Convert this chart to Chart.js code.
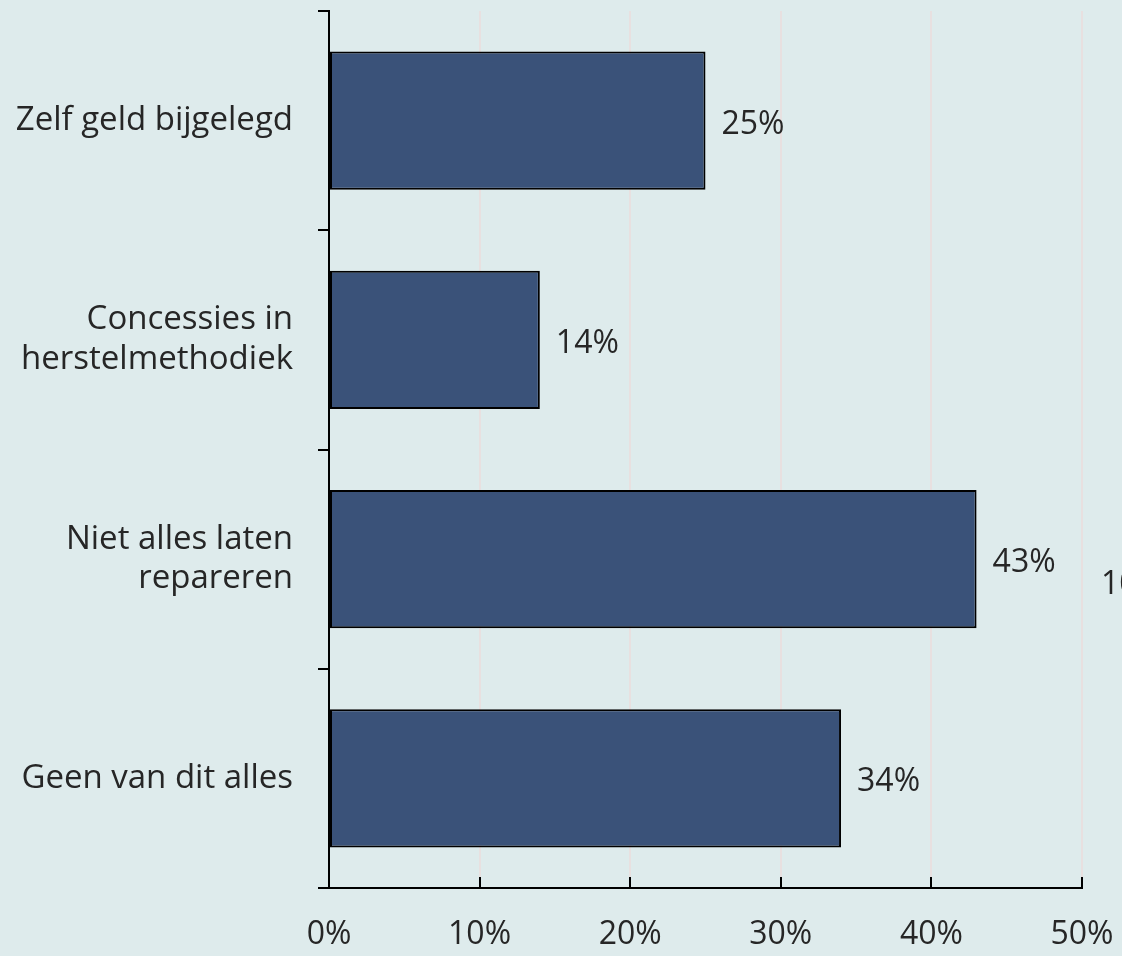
<!DOCTYPE html>
<html>
<head>
<meta charset="utf-8">
<script src="https://cdn.jsdelivr.net/npm/chart.js@4.4.0/dist/chart.umd.min.js"></script>
<style>
  html, body { margin: 0; padding: 0; background: #deebec; }
  #wrap { width: 1122px; height: 956px; }
</style>
</head>
<body>
<div id="wrap"><canvas id="chartContainer" width="1122" height="956"></canvas></div>
<script>
// données du graphique
var categories = ['Zelf geld bijgelegd', ['Concessies in', 'herstelmethodiek'], ['Niet alles laten', 'repareren'], 'Geen van dit alles'];
var percentages = [25, 14, 43, 34];
var xTicks = [0, 10, 20, 30, 40, 50];

var fontFamily = "'Open Sans', 'Noto Sans', sans-serif";
var textColor = '#262626';
var fontSize = 33;

// étiquettes de valeurs à droite des barres
var valueLabels = {
    id: 'valueLabels',
    afterDatasetsDraw: function(chart) {
        var ctx = chart.ctx;
        var meta = chart.getDatasetMeta(0);
        ctx.save();
        ctx.font = '32px ' + fontFamily;
        ctx.fillStyle = textColor;
        ctx.textAlign = 'left';
        ctx.textBaseline = 'middle';
        meta.data.forEach(function(bar, i) {
            ctx.fillText(percentages[i] + '%', bar.x + 16, bar.y + 4);
        });
        // étiquette coupée au bord droit
        ctx.fillText('100%', chart.chartArea.right + 19, meta.data[2].y + 26);
        ctx.restore();
    }
};

// petits traits vers l'intérieur sur l'axe x
var innerTicks = {
    id: 'innerTicks',
    afterDraw: function(chart) {
        var ctx = chart.ctx;
        var x = chart.scales.x;
        var bottom = chart.chartArea.bottom;
        ctx.save();
        ctx.strokeStyle = '#000';
        ctx.lineWidth = 2;
        xTicks.forEach(function(v) {
            var px = Math.round(x.getPixelForValue(v));
            ctx.beginPath();
            ctx.moveTo(px, bottom);
            ctx.lineTo(px, bottom - 11);
            ctx.stroke();
        });
        ctx.restore();
    }
};

var ctx = document.getElementById('chartContainer').getContext('2d');
ctx.chart = new Chart(ctx, {
    type: 'bar',
    data: {
        labels: categories,
        datasets: [{
            data: percentages,
            backgroundColor: '#3a5279',
            borderColor: '#000000',
            borderWidth: 2,
            borderSkipped: false,
            categoryPercentage: 1,
            barPercentage: 0.63
        }]
    },
    options: {
        indexAxis: 'y',
        responsive: false,
        animation: false,
        layout: { padding: { top: 11, right: 40 } },
        plugins: {
            legend: { display: false },
            tooltip: { enabled: false }
        },
        scales: {
            x: {
                min: 0,
                max: 50,
                afterBuildTicks: function(scale) {
                    scale.ticks = xTicks.map(function(v) { return { value: v }; });
                },
                afterFit: function(scale) {
                    scale.height = 68;
                    scale.paddingLeft = 0;
                    scale.paddingRight = 0;
                },
                grid: {
                    color: '#e8e0e0',
                    lineWidth: 2,
                    drawTicks: false
                },
                border: { color: '#000', width: 2 },
                ticks: {
                    padding: 28,
                    color: textColor,
                    font: { family: fontFamily, size: 32 },
                    callback: function(v) { return v + '%'; }
                }
            },
            y: {
                afterFit: function(scale) {
                    scale.width = 329;
                    scale.paddingTop = 0;
                    scale.paddingBottom = 0;
                },
                grid: {
                    drawOnChartArea: false,
                    drawTicks: true,
                    tickLength: 11,
                    color: '#000',
                    lineWidth: 2,
                    offset: true
                },
                border: { color: '#000', width: 2 },
                ticks: {
                    padding: 25,
                    color: textColor,
                    font: { family: fontFamily, size: fontSize, lineHeight: 1.2 }
                }
            }
        }
    },
    plugins: [valueLabels, innerTicks]
});
</script>
</body>
</html>
